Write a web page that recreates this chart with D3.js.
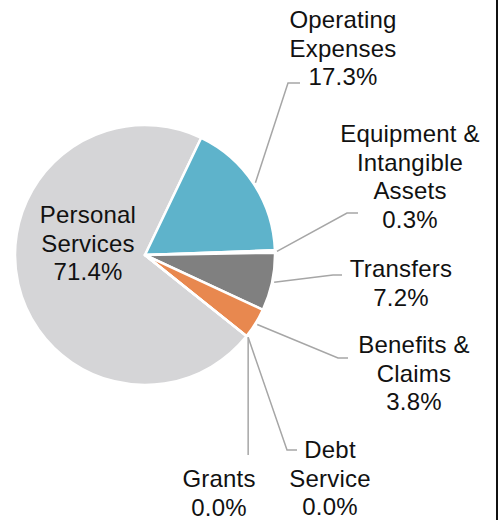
<!DOCTYPE html>
<html>
<head>
<meta charset="utf-8">
<script src="https://cdn.jsdelivr.net/npm/d3@7"></script>
<style>
  html, body { margin: 0; padding: 0; background: #fff; }
  svg { display: block; }
  text { font-family: "Liberation Sans", Arial, sans-serif; font-size: 24px; letter-spacing: 0.2px; fill: #111; }
</style>
</head>
<body>
<svg id="chart" width="498" height="520"></svg>
<script>
// Budget share by expense category (percent), clockwise order
const categories = ["Personal Services", "Operating Expenses", "Equipment & Intangible Assets",
                    "Transfers", "Benefits & Claims", "Debt Service", "Grants"];
const shares = [71.4, 17.3, 0.3, 7.2, 3.8, 0.0, 0.0];
const labelLines = [
  ["Personal", "Services"],
  ["Operating", "Expenses"],
  ["Equipment &", "Intangible", "Assets"],
  ["Transfers"],
  ["Benefits &", "Claims"],
  ["Debt", "Service"],
  ["Grants"]
];
const colors = ["#D5D5D7", "#5EB3CB", "#A5A5A5", "#808080", "#E8884F", "#4472C4", "#FFC000"];

// Label placement: text centre x, first baseline y, and leader elbow / end
const labelLayout = [
  { x: 88,  y: 223, inside: true },
  { x: 343, y: 28,  elbow: [288, 83],  end: [300, 83] },
  { x: 410, y: 142, elbow: [347, 213], end: [358, 213] },
  { x: 401, y: 277, elbow: [333, 275], end: [342, 275] },
  { x: 414, y: 353, elbow: [338, 358], end: [348, 358] },
  { x: 330, y: 458, elbow: [287, 450], end: [297, 450] },
  { x: 219, y: 487, elbow: null,       end: null, drop: 455 }
];

const svg = d3.select("#chart");
const cx = 145, cy = 255, r = 130, lineH = 28.5;

const start = -231.4 * Math.PI / 180;
const pie = d3.pie().sort(null).value(d => d).startAngle(start).endAngle(start + 2 * Math.PI);
const arcs = pie(shares);
const arc = d3.arc().innerRadius(0).outerRadius(r);

const g = svg.append("g").attr("transform", `translate(${cx},${cy})`);

g.selectAll("path.slice")
  .data(arcs)
  .enter().append("path")
  .attr("class", "slice")
  .attr("d", arc)
  .attr("fill", (d, i) => colors[i])
  .attr("stroke", "#fff")
  .attr("stroke-width", 2.5)
  .attr("stroke-linejoin", "round");

// Leader lines from the slice edge
const leaderR = 132;
arcs.forEach((a, i) => {
  const L = labelLayout[i];
  if (L.inside) return;
  const mid = (a.startAngle + a.endAngle) / 2;
  const sx = cx + leaderR * Math.sin(mid), sy = cy - leaderR * Math.cos(mid);
  let pts;
  if (L.elbow) pts = [[sx, sy], L.elbow, L.end];
  else pts = [[sx, sy], [sx, L.drop]];
  svg.append("path")
    .attr("d", d3.line()(pts))
    .attr("fill", "none")
    .attr("stroke", "#A6A6A6")
    .attr("stroke-width", 1.5);
});

// Category labels with percentages
const fmt = d3.format(".1f");
labelLayout.forEach((L, i) => {
  const lines = labelLines[i].concat([fmt(shares[i]) + "%"]);
  const t = svg.append("text").attr("text-anchor", "middle");
  lines.forEach((s, k) => {
    t.append("tspan").attr("x", L.x).attr("y", L.y + k * lineH).text(s);
  });
});

// Right-hand frame edge
svg.append("rect").attr("x", 496).attr("y", 0).attr("width", 2).attr("height", 520).attr("fill", "#111");
</script>
</body>
</html>
